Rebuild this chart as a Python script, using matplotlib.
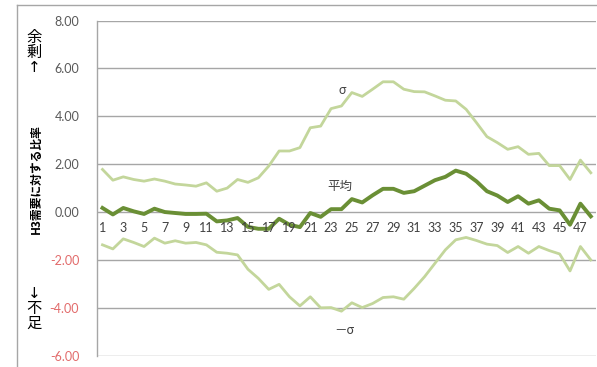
import matplotlib
matplotlib.use("Agg")
import matplotlib.pyplot as plt
from matplotlib.lines import Line2D

plt.rcParams['font.family'] = ['Lato', 'Noto Sans CJK JP', 'DejaVu Sans']

categories = list(range(1, 49))
mean_vals = [0.17, -0.10, 0.17, 0.03, -0.08, 0.14, 0.00, -0.04, -0.08, -0.08,
             -0.07, -0.39, -0.35, -0.25, -0.62, -0.70, -0.70, -0.28, -0.53, -0.63,
             -0.04, -0.20, 0.12, 0.12, 0.54, 0.40, 0.70, 0.97, 0.97, 0.80,
             0.87, 1.10, 1.33, 1.47, 1.73, 1.60, 1.28, 0.87, 0.69, 0.42,
             0.66, 0.35, 0.49, 0.14, 0.07, -0.53, 0.35, -0.18]
upper_vals = [1.78, 1.33, 1.47, 1.36, 1.29, 1.38, 1.29, 1.17, 1.13, 1.08,
              1.22, 0.87, 1.00, 1.36, 1.24, 1.43, 1.92, 2.55, 2.55, 2.69,
              3.52, 3.59, 4.32, 4.43, 4.99, 4.83, 5.13, 5.44, 5.44, 5.13,
              5.03, 5.02, 4.85, 4.67, 4.64, 4.29, 3.73, 3.15, 2.90, 2.62,
              2.73, 2.41, 2.45, 1.94, 1.94, 1.36, 2.17, 1.64]
lower_vals = [-1.37, -1.54, -1.12, -1.27, -1.44, -1.09, -1.30, -1.20, -1.30, -1.27,
              -1.37, -1.68, -1.72, -1.79, -2.39, -2.77, -3.23, -3.02, -3.54, -3.92,
              -3.54, -4.00, -3.99, -4.14, -3.79, -3.99, -3.82, -3.57, -3.54, -3.64,
              -3.19, -2.70, -2.14, -1.58, -1.16, -1.06, -1.19, -1.34, -1.40, -1.69,
              -1.44, -1.72, -1.44, -1.61, -1.75, -2.46, -1.44, -2.00]
y_ticks = [8, 6, 4, 2, 0, -2, -4, -6]
y_tick_labels = ["8.00", "6.00", "4.00", "2.00", "0.00", "-2.00", "-4.00", "-6.00"]
ylabel = "H3需要に対する比率"
surplus_label = "余\n剰\n↑"
shortage_label = "↓\n不\n足"

W, H = 597, 367
fig = plt.figure(figsize=(W / 100, H / 100), dpi=100)
ax = fig.add_axes([97.3 / W, 1 - 355.7 / H, (596 - 97.3) / W, (355.7 - 20.5) / H])

dark = "#6a8f35"
light = "#c3d69b"
ax.plot(categories, upper_vals, color=light, lw=2.0, solid_joinstyle='round')
ax.plot(categories, lower_vals, color=light, lw=2.0, solid_joinstyle='round')
ax.plot(categories, mean_vals, color=dark, lw=2.8, solid_joinstyle='round')

ax.set_xlim(0.5, 48.5)
ax.set_ylim(-6, 8)
ax.set_yticks(y_ticks)
ax.set_yticklabels(y_tick_labels)
for lbl, v in zip(ax.get_yticklabels(), y_ticks):
    lbl.set_color("#e26b6b" if v < 0 else "#595959")
    lbl.set_fontsize(9)
ax.tick_params(axis='y', length=0, pad=13)
ax.set_xticks([])
ax.grid(axis='y', color="#a6a6a6", lw=1.0)
ax.set_axisbelow(True)
for s in ['top', 'right', 'bottom']:
    ax.spines[s].set_visible(False)
ax.spines['left'].set_color("#a6a6a6")
ax.spines['left'].set_linewidth(1.0)

for c in categories:
    if c % 2 == 1:
        ax.annotate(str(c), xy=(c, 0), xytext=(0, -7), textcoords='offset points',
                    ha='center', va='top', fontsize=9, color="#404040")

ax.text(24.05, 5.09, "σ", ha='center', va='center', fontsize=9, color="#404040")
ax.text(23.85, 1.06, "平均", ha='center', va='center', fontsize=9, color="#404040",
        family=['Noto Sans CJK JP', 'DejaVu Sans'])
ax.text(24.3, -4.94, "－σ", ha='center', va='center', fontsize=9, color="#404040",
        family=['Noto Sans CJK JP', 'DejaVu Sans'])

fig.text(36 / W, 1 - 179 / H, ylabel, rotation=90, ha='center', va='center',
         fontsize=8.5, fontweight='bold', color="#000000",
         family=['Noto Sans CJK JP', 'DejaVu Sans'])
fig.text(34 / W, 1 - 52 / H, surplus_label, ha='center', va='center', fontsize=11,
         linespacing=1.0, color="#000000", family=['DejaVu Sans', 'Noto Sans CJK JP'])
fig.text(34 / W, 1 - 308 / H, shortage_label, ha='center', va='center', fontsize=11,
         linespacing=1.0, color="#000000", family=['DejaVu Sans', 'Noto Sans CJK JP'])

fig.add_artist(Line2D([17 / W, 17 / W], [0, 1 - 5 / H], color="#a6a6a6", lw=1.0,
                      transform=fig.transFigure))
fig.add_artist(Line2D([17 / W, 1], [1 - 5 / H, 1 - 5 / H], color="#a6a6a6", lw=1.0,
                      transform=fig.transFigure))

fig.savefig("out.png", dpi=100)
